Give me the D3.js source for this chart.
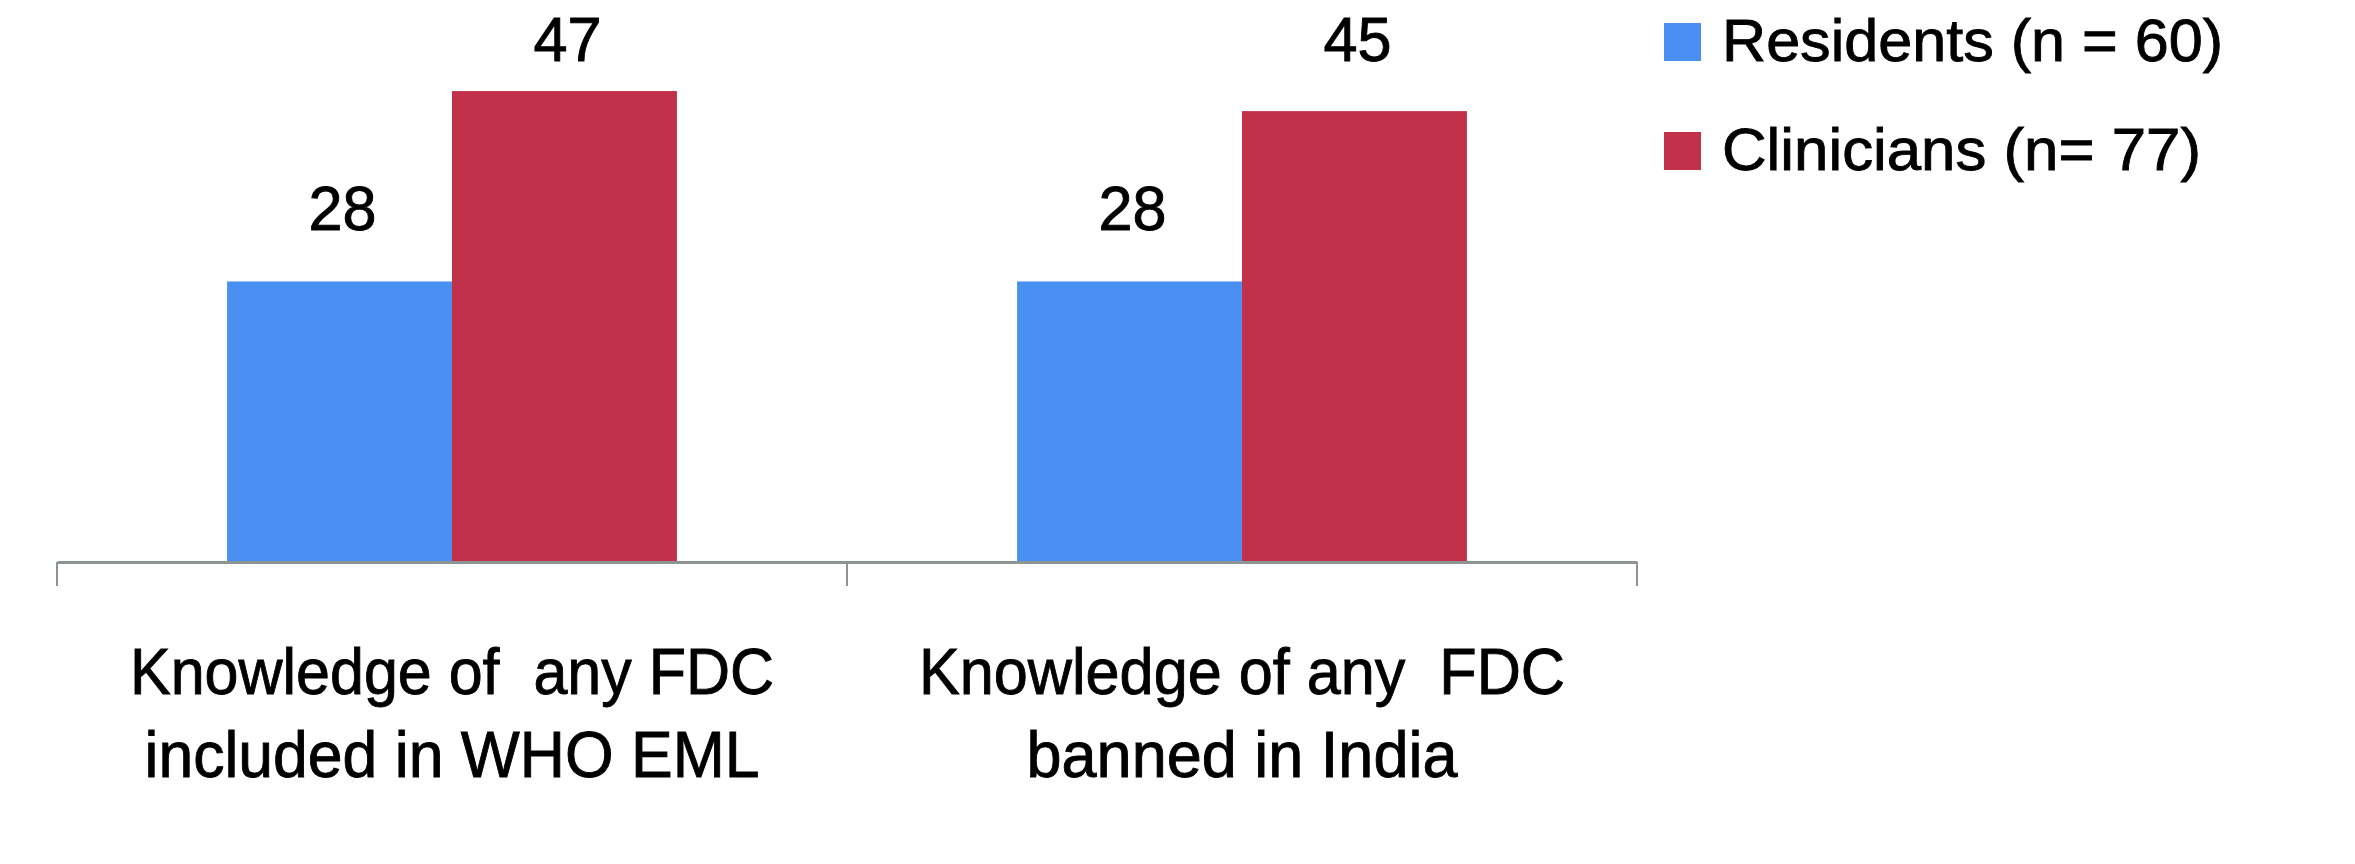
<!DOCTYPE html>
<html>
<head>
<meta charset="utf-8">
<script src="https://cdn.jsdelivr.net/npm/d3@7"></script>
<style>
  body { margin: 0; background: #fff; }
  svg { display: block; font-family: "Liberation Sans", Arial, sans-serif; }
  /* reference text is a bit heavier than Liberation regular */
  svg text { stroke: #000; stroke-width: 0.9px; }
</style>
</head>
<body>
<svg id="chart"></svg>
<script>
// Data
const categories = ['cat1', 'cat2'];
const categoryLines = [
  ['Knowledge of  any FDC', 'included in WHO EML'],
  ['Knowledge of any  FDC', 'banned in India']
];
const seriesNames = ['Residents (n = 60)', 'Clinicians (n= 77)'];
const residents = [28, 28];
const clinicians = [47, 45];
const seriesColors = ['#4a8ff2', '#c2314a'];

const width = 2355;
const height = 864;

const svg = d3.select('#chart')
  .attr('width', width)
  .attr('height', height);

// Scales
const x0 = d3.scaleBand()
  .domain(categories)
  .range([57, 1637]);

const x1 = d3.scaleBand()
  .domain(seriesNames)
  .range([0, x0.bandwidth()])
  .paddingOuter(0.756);

const y = d3.scaleLinear()
  .domain([0, 50])
  .range([562, 61]);

const values = [residents, clinicians];

// Bars
const groups = svg.selectAll('g.cat')
  .data(categories)
  .enter()
  .append('g').attr('class', 'cat')
  .attr('transform', d => `translate(${x0(d)},0)`);

groups.selectAll('rect')
  .data((d, i) => seriesNames.map((s, j) => ({ s: s, j: j, v: values[j][i] })))
  .enter()
  .append('rect')
  .attr('x', d => x1(d.s))
  .attr('y', d => y(d.v))
  .attr('width', x1.bandwidth())
  .attr('height', d => y(0) - y(d.v))
  .attr('fill', d => seriesColors[d.j]);

// Value labels, pushed down if they would leave the plot area
groups.selectAll('text.val')
  .data((d, i) => seriesNames.map((s, j) => ({ s: s, j: j, v: values[j][i] })))
  .enter()
  .append('text').attr('class', 'val')
  .attr('x', d => x1(d.s) + x1.bandwidth() / 2 + 3)
  .attr('y', d => Math.max(y(d.v) - 51, y.range()[1]))
  .attr('text-anchor', 'middle')
  .attr('font-size', 63)
  .attr('textLength', 68)
  .attr('lengthAdjust', 'spacingAndGlyphs')
  .attr('fill', '#000')
  .text(d => d.v);

// X axis with ticks between categories
const axis = d3.axisBottom(x0)
  .tickValues([])
  .tickSizeOuter(0);
const axisG = svg.append('g')
  .attr('transform', `translate(0,${y(0)})`)
  .call(axis);
axisG.select('.domain')
  .attr('stroke', '#8c9494')
  .attr('stroke-width', 3);

const tickXs = [x0.range()[0], ...categories.slice(1).map(c => x0(c)), x0.range()[1]];
axisG.selectAll('line.sep')
  .data(tickXs)
  .enter()
  .append('line').attr('class', 'sep')
  .attr('x1', d => d).attr('x2', d => d)
  .attr('y1', 0).attr('y2', 24)
  .attr('stroke', '#8c9494')
  .attr('stroke-width', 2);

// Category labels (two lines each)
const lineWidths = [[644, 615], [646, 431]];
categories.forEach((c, i) => {
  const cx = x0(c) + x0.bandwidth() / 2;
  categoryLines[i].forEach((line, k) => {
    svg.append('text')
      .attr('x', cx)
      .attr('y', 694 + k * 83)
      .attr('text-anchor', 'middle')
      .attr('font-size', 64)
      .attr('textLength', lineWidths[i][k])
      .attr('lengthAdjust', 'spacingAndGlyphs')
      .attr('xml:space', 'preserve')
      .style('white-space', 'pre')
      .attr('fill', '#000')
      .text(line);
  });
});

// Legend
const legend = svg.append('g')
  .attr('transform', 'translate(1664,23)');
const legendWidths = [501, 479];
const items = legend.selectAll('g')
  .data(seriesNames)
  .enter()
  .append('g')
  .attr('transform', (d, i) => `translate(0,${i * 109})`);
items.append('rect')
  .attr('width', 37)
  .attr('height', 38)
  .attr('fill', (d, i) => seriesColors[i]);
items.append('text')
  .attr('x', 58)
  .attr('y', 38)
  .attr('font-size', 60)
  .attr('textLength', (d, i) => legendWidths[i])
  .attr('lengthAdjust', 'spacingAndGlyphs')
  .attr('fill', '#000')
  .text(d => d);
</script>
</body>
</html>
